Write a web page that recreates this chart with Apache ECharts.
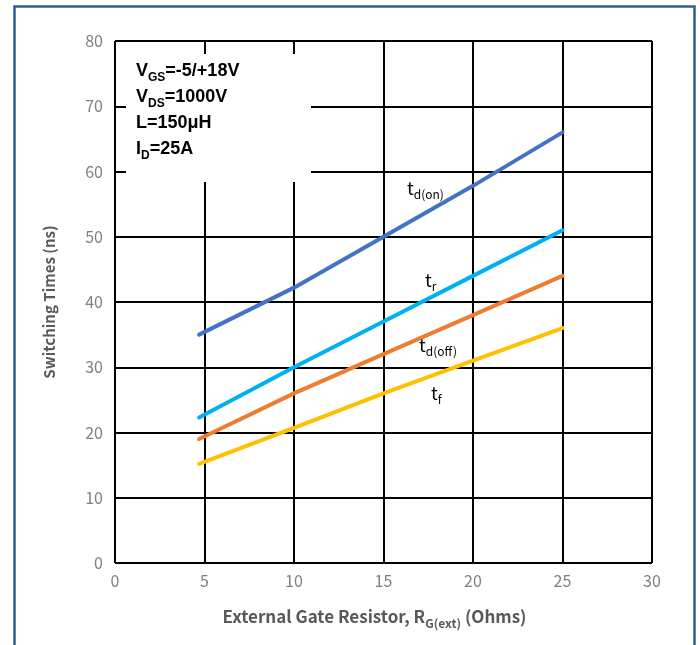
<!DOCTYPE html>
<html><head><meta charset="utf-8">
<script src="https://cdn.jsdelivr.net/npm/echarts@6/dist/echarts.min.js"></script>
<style>html,body{margin:0;padding:0;background:#fff}#c{width:700px;height:645px}</style>
</head><body><div id="c"></div>
<script>
const rgValues = [4.7, 10, 15, 20, 25];
const tdOn  = [35, 42.2, 50, 57.8, 66];
const tR    = [22.3, 30, 37, 44, 51];
const tdOff = [19, 26, 32, 38, 44];
const tF    = [15.2, 20.7, 26, 31, 36];
const xTicks = [0, 5, 10, 15, 20, 25, 30];
const yTicks = [0, 10, 20, 30, 40, 50, 60, 70, 80];
const seriesNames = ['t_d(on)', 't_r', 't_d(off)', 't_f'];
const seriesColors = ['#4472C4', '#00B0F0', '#ED7D31', '#FFC000'];
const seriesValues = [tdOn, tR, tdOff, tF];
const annoLines = [['V', 'GS', '=-5/+18V'], ['V', 'DS', '=1000V'], ['L=150μH', '', ''], ['I', 'D', '=25A']];

const chart = echarts.init(document.getElementById('c'));
const font = '"Noto Sans CJK SC", "Noto Sans", sans-serif';
const series = seriesValues.map((vals, i) => ({
  name: seriesNames[i], type: 'line', showSymbol: false, symbol: 'none',
  data: rgValues.map((x, j) => [x, vals[j]]),
  lineStyle: { color: seriesColors[i], width: 4, cap: 'round' },
  itemStyle: { color: seriesColors[i] }, z: 5
}));
const annoText = annoLines.map(l => l[1] ? `{n|${l[0]}}{s|${l[1]}}{n|${l[2]}}` : `{n|${l[0]}}`).join('\n');
const curveLabels = [
  { x: 407, y: 191, main: 't', sub: 'd(on)' },
  { x: 425, y: 283, main: 't', sub: 'r' },
  { x: 419, y: 348, main: 't', sub: 'd(off)' },
  { x: 431, y: 396, main: 't', sub: 'f' }
];
const labelRich = {
  m: { fontSize: 18, fontFamily: font, color: '#404040', lineHeight: 24, verticalAlign: 'middle' },
  s: { fontSize: 12, fontFamily: font, color: '#404040', lineHeight: 12, verticalAlign: 'bottom' }
};
chart.setOption({
  animation: false,
  grid: { left: 115, right: 48, top: 41, bottom: 82, show: false },
  xAxis: {
    type: 'value', min: 0, max: 30, interval: 5,
    axisLine: { show: false }, axisTick: { show: false },
    splitLine: { show: true, lineStyle: { color: '#000', width: 2 } },
    axisLabel: { color: '#808080', fontSize: 16, fontFamily: font, margin: 10 },
    name: '{a|External Gate Resistor, R}{s|G(ext)}{a| (Ohms)}',
    nameLocation: 'middle', nameGap: 42,
    nameTextStyle: { padding: [0, 18, 0, 0], rich: {
      a: { fontSize: 17, fontWeight: 'bold', color: '#595959', fontFamily: font, lineHeight: 24, verticalAlign: 'middle' },
      s: { fontSize: 12, fontWeight: 'bold', color: '#595959', fontFamily: font, lineHeight: 12, verticalAlign: 'bottom' }
    } }
  },
  yAxis: {
    type: 'value', min: 0, max: 80, interval: 10,
    axisLine: { show: false }, axisTick: { show: false },
    splitLine: { show: true, lineStyle: { color: '#000', width: 2 } },
    axisLabel: { color: '#808080', fontSize: 16, fontFamily: font, margin: 12 },
    name: 'Switching Times (ns)', nameLocation: 'middle', nameGap: 58,
    nameTextStyle: { fontSize: 15, fontWeight: 'bold', color: '#595959', fontFamily: font }
  },
  series: series,
  graphic: [
    { type: 'rect', left: 12, top: 4, shape: { width: 680, height: 660 }, style: { fill: 'none', stroke: '#2F5D99', lineWidth: 2.5 }, z: 1 },
    { type: 'rect', left: 126, top: 54, shape: { width: 185, height: 128 }, style: { fill: '#fff' }, z: 50 },
    { type: 'text', left: 136, top: 62, z: 60, style: {
      text: annoText,
      rich: {
        n: { fontSize: 18, fontWeight: 'bold', fontFamily: '"Liberation Sans", Arial, sans-serif', color: '#000', lineHeight: 26, verticalAlign: 'middle' },
        s: { fontSize: 12, fontWeight: 'bold', fontFamily: '"Liberation Sans", Arial, sans-serif', color: '#000', lineHeight: 12, verticalAlign: 'bottom' }
      }
    } }
  ].concat(curveLabels.map(c => ({
    type: 'text', left: c.x, top: c.y - 12, z: 60,
    style: { text: `{m|${c.main}}{s|${c.sub}}`, rich: labelRich }
  })))
});
</script></body></html>
